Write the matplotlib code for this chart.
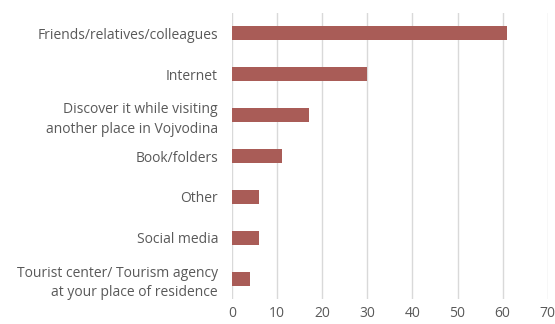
import matplotlib
matplotlib.use("Agg")
import matplotlib.pyplot as plt

categories = [
    "Friends/relatives/colleagues",
    "Internet",
    "Discover it while visiting\nanother place in Vojvodina",
    "Book/folders",
    "Other",
    "Social media",
    "Tourist center/ Tourism agency\nat your place of residence",
]
values = [61, 30, 17, 11, 6, 6, 4]
xticks = [0, 10, 20, 30, 40, 50, 60, 70]

plt.rcParams["font.family"] = ["Open Sans", "DejaVu Sans"]

fig = plt.figure(figsize=(5.55, 3.24), dpi=100)
ax = fig.add_axes([0.418, 0.077, 0.569, 0.883])

pos = list(range(len(categories)))
ax.barh(pos, values, height=0.34, color="#A95C57", zorder=3)
ax.set_ylim(len(categories) - 0.5, -0.5)
ax.set_xlim(0, 70)
ax.set_xticks(xticks)
ax.set_yticks(pos)
ax.set_yticklabels(categories, fontsize=10, color="#595959", linespacing=1.4)
ax.tick_params(axis="x", labelsize=10, labelcolor="#595959", length=0, pad=5)
ax.tick_params(axis="y", length=0, pad=10)
ax.grid(axis="x", color="#D9D9D9", linewidth=1, zorder=0)
for s in ["top", "right", "bottom", "left"]:
    ax.spines[s].set_visible(False)

fig.savefig("out.png", dpi=100, facecolor="white")
